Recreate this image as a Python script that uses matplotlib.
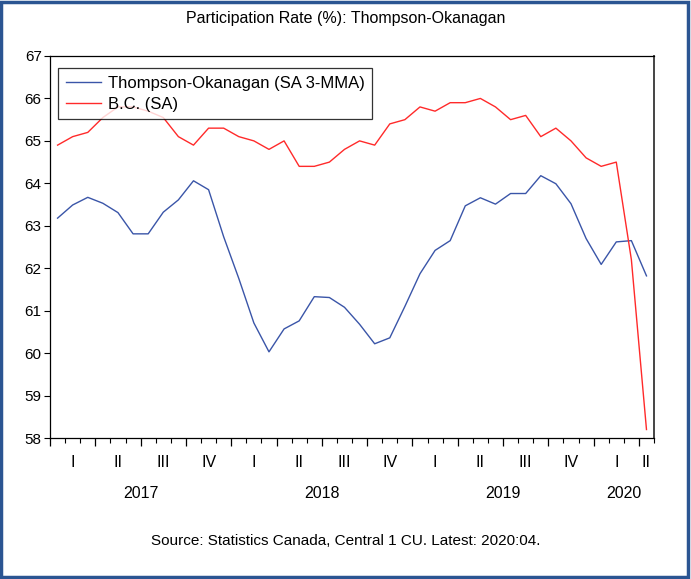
import numpy as np
import matplotlib
matplotlib.use('Agg')
import matplotlib.pyplot as plt
from matplotlib.patches import Rectangle
from matplotlib.transforms import blended_transform_factory

plt.rcParams['font.family'] = ['Liberation Sans', 'DejaVu Sans']

# monthly, 2017:01 .. 2020:04
thompson_okanagan = [63.18, 63.49, 63.67, 63.53, 63.31, 62.81, 62.81, 63.32, 63.61, 64.06,
                     63.85, 62.74, 61.76, 60.71, 60.03, 60.57, 60.76, 61.33, 61.31, 61.08,
                     60.68, 60.22, 60.36, 61.10, 61.87, 62.42, 62.65, 63.47, 63.66, 63.51,
                     63.76, 63.76, 64.18, 63.99, 63.52, 62.70, 62.09, 62.62, 62.65, 61.82]
bc = [64.9, 65.1, 65.2, 65.55, 65.8, 65.8, 65.7, 65.55, 65.1, 64.9,
      65.3, 65.3, 65.1, 65.0, 64.8, 65.0, 64.4, 64.4, 64.5, 64.8,
      65.0, 64.9, 65.4, 65.5, 65.8, 65.7, 65.9, 65.9, 66.0, 65.8,
      65.5, 65.6, 65.1, 65.3, 65.0, 64.6, 64.4, 64.5, 62.2, 58.2]

quarter_names = ['I', 'II', 'III', 'IV']
years = ['2017', '2018', '2019', '2020']
series_names = ['Thompson-Okanagan (SA 3-MMA)', 'B.C. (SA)']

n = len(bc)
x = np.arange(n) + 0.5

fig = plt.figure(figsize=(6.91, 5.79), dpi=100)
ax = fig.add_axes([0.0724, 0.2435, 0.8741, 0.6598])

ax.plot(x, thompson_okanagan, color='#3A55A8', lw=1.0, label=series_names[0])
ax.plot(x, bc, color='#FF2A2A', lw=1.0, label=series_names[1])

ax.set_xlim(0, n)
ax.set_ylim(58, 67)
ax.set_yticks(range(58, 68))
ax.tick_params(axis='y', direction='out', length=4, width=0.8, labelsize=11, right=False, pad=2)

ax.set_xticks(range(0, n + 1, 3))
ax.set_xticks(range(0, n + 1), minor=True)
ax.tick_params(axis='x', which='major', direction='out', length=6, width=0.9, labelbottom=False)
ax.tick_params(axis='x', which='minor', direction='out', length=3.5, width=0.8)

for s in ax.spines.values():
    s.set_linewidth(0.9)
ax.spines['right'].set_color('#444444')
ax.spines['right'].set_linewidth(1.4)

# quarter and year labels under the axis
trans = blended_transform_factory(ax.transData, ax.transAxes)
for q in range(0, n, 3):
    mid = q + min(3, n - q) / 2
    ax.text(mid, -0.064, quarter_names[(q // 3) % 4], transform=trans,
            ha='center', va='center', fontsize=11.5)
for k, yr in enumerate(years):
    start = k * 12
    end = min(start + 12, n)
    ax.text((start + end) / 2, -0.146, yr, transform=trans,
            ha='center', va='center', fontsize=11.5)

leg = ax.legend(loc='upper left', bbox_to_anchor=(0.0133, 0.968), fontsize=12,
                frameon=True, fancybox=False, shadow=False, handlelength=2.1,
                borderpad=0.45, labelspacing=0.35, handletextpad=0.45, borderaxespad=0)
leg.get_frame().set_edgecolor('black')
leg.get_frame().set_linewidth(0.9)

fig.text(0.5, 1 - 18 / 579, 'Participation Rate (%): Thompson-Okanagan',
         ha='center', va='center', fontsize=11.5)
fig.text(0.5, 1 - 541 / 579, 'Source: Statistics Canada, Central 1 CU. Latest: 2020:04.',
         ha='center', va='center', fontsize=11)

fig.patches.append(Rectangle((0.002, 0.004), 0.994, 0.993, transform=fig.transFigure,
                             fill=False, edgecolor='#2B5592', lw=2.5))

fig.savefig('out.png', dpi=100)
